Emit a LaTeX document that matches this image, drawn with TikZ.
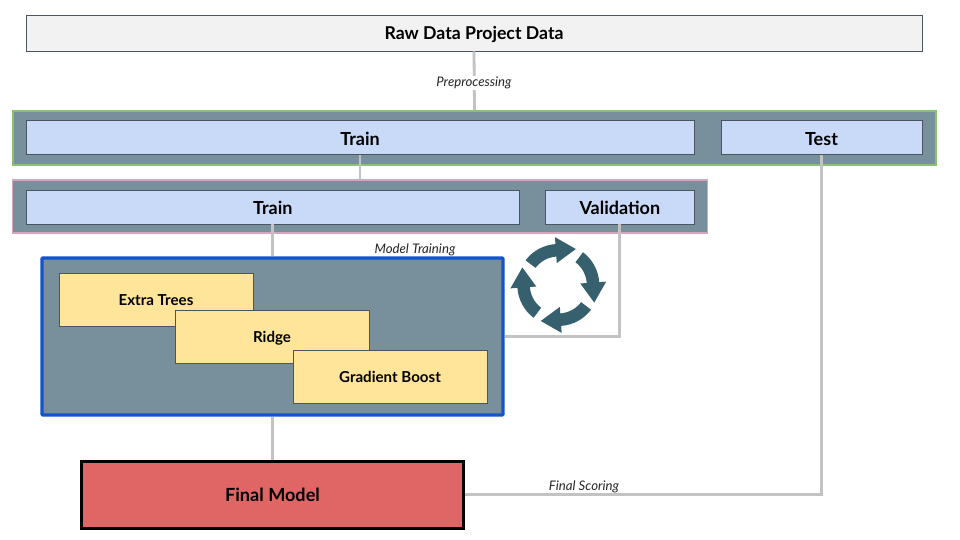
\documentclass[tikz,border=0pt]{standalone}
\usepackage{fontspec}
\setmainfont{Lato}
\definecolor{slate}{HTML}{78909C}
\definecolor{paleblue}{HTML}{C9DAF8}
\definecolor{paleyellow}{HTML}{FFE599}
\definecolor{redbox}{HTML}{E06666}
\definecolor{conn}{HTML}{C3C3C3}
\definecolor{cyc}{HTML}{37606E}
\definecolor{edge}{HTML}{4A5560}
\definecolor{greenedge}{HTML}{8BC070}
\definecolor{pinkedge}{HTML}{D5A6BD}
\definecolor{blueedge}{HTML}{1155CC}
\tikzset{
  box/.style={draw=edge,line width=0.8pt,inner sep=0pt,font=\bfseries},
  rawbox/.style={box,fill=black!5,text height=18pt,text depth=4pt,font=\fontsize{17.7}{20}\selectfont\bfseries},
  bluebox/.style={box,fill=paleblue,text height=18.4pt,text depth=4pt,font=\fontsize{18}{20}\selectfont\bfseries},
  yellowbox/.style={box,fill=paleyellow,text height=16pt,text depth=4pt,font=\fontsize{15.1}{18}\selectfont\bfseries},
  panel/.style={fill=slate,inner sep=0pt,line width=1.5pt},
  linkline/.style={draw=conn,line width=2.8pt},
  note/.style={font=\fontsize{13.2}{15}\selectfont\itshape,text=black!85,inner sep=1pt},
}
\begin{document}
\begin{tikzpicture}[x=1pt,y=-1pt]
\useasboundingbox (0,0) rectangle (960,540);
\fill[white] (0,0) rectangle (960,540);
% panels
\node[panel,draw=greenedge,minimum width=923pt,minimum height=54pt] (greenpanel) at (474.5,138) {};
\node[panel,draw=pinkedge,minimum width=695pt,minimum height=53pt] (pinkpanel) at (360,206.5) {};
\node[panel,draw=blueedge,line width=3.2pt,rounded corners=1pt,minimum width=461pt,minimum height=157pt] (bluepanel) at (272.5,336.5) {};
% boxes
\node[rawbox,minimum width=896pt,minimum height=36pt] (raw) at (474,33) {Raw Data Project Data};
\node[bluebox,minimum width=668pt,minimum height=34pt] (trainA) at (360,137.9) {Train};
\node[bluebox,minimum width=201pt,minimum height=34pt] (test) at (821.5,137.9) {Test};
\node[bluebox,minimum width=493.5pt,minimum height=34pt] (trainB) at (272.8,206.9) {Train};
\node[bluebox,minimum width=149.6pt,minimum height=34pt] (valid) at (619.8,206.9) {Validation};
\node[yellowbox,minimum width=194pt,minimum height=53pt] (extra) at (156,299.5) {Extra Trees};
\node[yellowbox,minimum width=194pt,minimum height=53pt] (ridge) at (272,336.5) {Ridge};
\node[yellowbox,minimum width=194pt,minimum height=53pt] (gboost) at (390,376.5) {Gradient Boost};
\node[draw=black,line width=3pt,fill=redbox,inner sep=0pt,minimum width=382pt,minimum height=67pt,text height=18pt,text depth=4pt,font=\fontsize{18.1}{20}\selectfont\bfseries] (final) at (272.5,494.5) {Final Model};
% connectors
\draw[linkline] (raw.south) -- (greenpanel.north);
\node[note,fill=white] (prep) at (474,82.6) {Preprocessing};
\draw[linkline] (trainA.south) -- (trainA.south |- pinkpanel.north);
\draw[linkline] (trainB.south) -- (trainB.south |- bluepanel.north);
\draw[linkline] (valid.south) |- (bluepanel.east |- 0,336.5);
\draw[linkline] (bluepanel.south) -- (bluepanel.south |- final.north);
\draw[linkline] (test.south) |- (final.east);
\node[note] (mtrain) at (415,249.6) {Model Training};
\node[note] (fscore) at (584,486.6) {Final Scoring};
% cycle icon
\foreach \a in {0,-90,-180,-270}{
  \begin{scope}[shift={(558.3,285)},yscale=-1,rotate=\a]
    \fill[cyc] (143:28.5) arc[start angle=143,end angle=94,radius=28.5]
      -- (94:22) -- (64:40) -- (94:48) -- (94:41)
      arc[start angle=94,end angle=143,radius=41] -- cycle;
  \end{scope}
}
\end{tikzpicture}
\end{document}
